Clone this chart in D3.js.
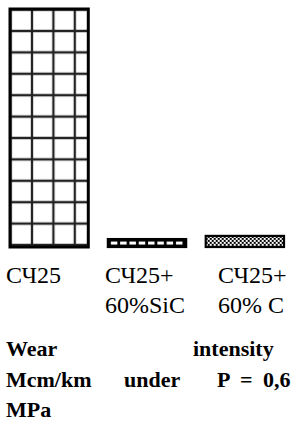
<!DOCTYPE html>
<html>
<head>
<meta charset="utf-8">
<script src="https://cdn.jsdelivr.net/npm/d3@7"></script>
</head>
<body style="margin:0">
<svg width="298" height="428"></svg>
<script>
// wear intensity, relative units (no axis in the original)
const categories = ["СЧ25", "СЧ25+60%SiC", "СЧ25+60%C"];
const values = [30, 1.0, 1.4];
const labelTop = ["СЧ25", "СЧ25+", "СЧ25+"];
const labelBottom = ["", "60%SiC", "60% C"];
const fills = ["grid", "dash", "check"];
const caption = [
  [["Wear", 6], ["intensity", 193]],
  [["Mcm/km", 6], ["under", 124], ["P", 217], ["=", 240], ["0,6", 263]],
  [["MPa", 6]]
];

const svg = d3.select("svg");

const x = d3.scaleBand()
    .domain(categories)
    .range([10, 284])
    .paddingInner(0.2)
    .paddingOuter(0);

const y = d3.scaleLinear()
    .domain([0, 30])
    .range([247, 9]);

const defs = svg.append("defs");

// square grid for the plain cast iron
const cell = 21.4;
const grid = defs.append("pattern")
    .attr("id", "grid")
    .attr("patternUnits", "userSpaceOnUse")
    .attr("width", cell).attr("height", cell)
    .attr("x", x(categories[0]) + 22 - cell / 2)
    .attr("y", y(values[0]) + 22 - cell / 2);
grid.append("rect").attr("width", cell).attr("height", cell).attr("fill", "#fff");
grid.append("path")
    .attr("d", `M${cell / 2},0V${cell}M0,${cell / 2}H${cell}`)
    .attr("stroke", "#222").attr("stroke-width", 2.3);

// dashes
const dash = defs.append("pattern")
    .attr("id", "dash")
    .attr("patternUnits", "userSpaceOnUse")
    .attr("width", 9.3).attr("height", 40)
    .attr("x", x(categories[1]) + 2)
    .attr("y", y(values[1]) + 2.5 - 20);
dash.append("rect").attr("width", 9.3).attr("height", 40).attr("fill", "#000");
dash.append("rect").attr("x", 1).attr("y", 20).attr("width", 6.5).attr("height", 3).attr("fill", "#fff");

// checker
const check = defs.append("pattern")
    .attr("id", "check")
    .attr("patternUnits", "userSpaceOnUse")
    .attr("width", 4).attr("height", 4)
    .attr("x", x(categories[2]))
    .attr("y", y(values[2]));
check.append("rect").attr("width", 4).attr("height", 4).attr("fill", "#000");
check.append("rect").attr("width", 2).attr("height", 2).attr("fill", "#fff");
check.append("rect").attr("x", 2).attr("y", 2).attr("width", 2).attr("height", 2).attr("fill", "#fff");

svg.append("g")
    .selectAll("rect")
    .data(values)
    .enter()
    .append("rect")
    .attr("x", (d, i) => x(categories[i]))
    .attr("y", d => y(d))
    .attr("width", x.bandwidth())
    .attr("height", d => y(0) - y(d))
    .attr("fill", (d, i) => `url(#${fills[i]})`)
    .attr("stroke", "#000")
    .attr("stroke-width", (d, i) => i === 0 ? 3 : 2.2);

// category labels (table layout, not centred on bars)
const labelX = [6, 105, 218];
svg.selectAll("text.top")
    .data(labelTop)
    .enter()
    .append("text")
    .attr("class", "top")
    .attr("x", (d, i) => labelX[i])
    .attr("y", 283)
    .style("font-family", "\"Liberation Serif\"")
    .style("font-size", "24px")
    .text(d => d);

svg.selectAll("text.bottom")
    .data(labelBottom)
    .enter()
    .append("text")
    .attr("class", "bottom")
    .attr("x", (d, i) => labelX[i])
    .attr("y", 313)
    .style("font-family", "\"Liberation Serif\"")
    .style("font-size", "24px")
    .text(d => d);

// caption, justified words
caption.forEach((line, li) => {
    svg.selectAll(null)
        .data(line)
        .enter()
        .append("text")
        .attr("x", d => d[1])
        .attr("y", 356 + li * 30.5)
        .style("font-family", "\"Liberation Serif\"")
        .style("font-size", "22px")
        .style("font-weight", "bold")
        .text(d => d[0]);
});
</script>
</body>
</html>
